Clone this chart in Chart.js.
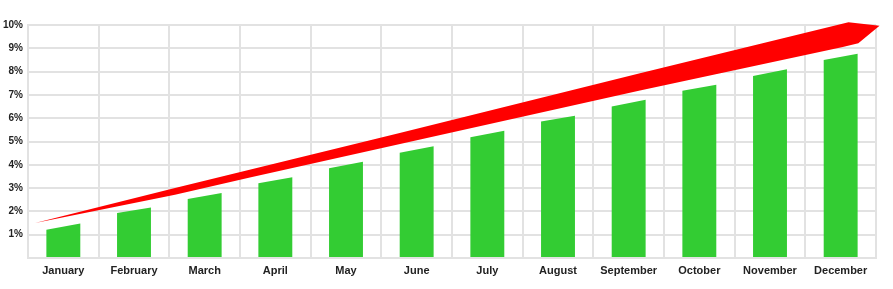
<!DOCTYPE html>
<html>
<head>
<meta charset="utf-8">
<script src="https://cdn.jsdelivr.net/npm/chart.js@4"></script>
<style>
  html, body { margin: 0; padding: 0; background: #ffffff; }
  #wrap { width: 893px; height: 289px; position: relative; }
</style>
</head>
<body>
<div id="wrap"><canvas id="c" width="893" height="289"></canvas></div>
<script>
// ---- data ----
const months = ['January', 'February', 'March', 'April', 'May', 'June', 'July', 'August', 'September', 'October', 'November', 'December'];
// each bar has a slanted top: value at its left edge and at its right edge (percent)
const barLeftTop  = [1.21, 1.93, 2.53, 3.21, 3.85, 4.52, 5.18, 5.86, 6.50, 7.18, 7.81, 8.50];
const barRightTop = [1.48, 2.17, 2.79, 3.47, 4.13, 4.80, 5.46, 6.11, 6.79, 7.44, 8.10, 8.77];
const yTicks = [0, 1, 2, 3, 4, 5, 6, 7, 8, 9, 10];
// red arrow outline (category-index position, percent), traced around the shape
const arrowX = [-0.40, 1.58, 4.76, 8.16, 11.11, 11.55, 11.25, 11.03, 8.16, 5.05, 2.64, 1.58, -0.40];
const arrowY = [ 1.50, 3.00, 5.36, 7.93, 10.12,  9.97,  9.22,  9.06, 7.19, 5.09, 3.46, 2.71,  1.50];

const GRID = '#e2e2e2';
const GREEN = '#33cc33';
const RED = '#ff0000';

const customShapes = {
  id: 'customShapes',
  beforeDatasetDraw(chart, args) {
    const ctx = chart.ctx;
    const meta = args.meta;
    if (args.index === 0) {
      // bars with slanted tops
      const yScale = chart.scales.y;
      ctx.save();
      ctx.fillStyle = GREEN;
      meta.data.forEach((el, i) => {
        const half = el.width / 2;
        const yL = yScale.getPixelForValue(barLeftTop[i]);
        const yR = el.y;
        ctx.beginPath();
        ctx.moveTo(el.x - half, el.base);
        ctx.lineTo(el.x - half, yL);
        ctx.lineTo(el.x + half, yR);
        ctx.lineTo(el.x + half, el.base);
        ctx.closePath();
        ctx.fill();
      });
      ctx.restore();
      return false;
    }
    if (args.index === 1) {
      // arrow: fill the line element's own path, without chart-area clipping
      ctx.save();
      ctx.fillStyle = RED;
      ctx.beginPath();
      meta.dataset.path(ctx);
      ctx.closePath();
      ctx.fill();
      ctx.restore();
      return false;
    }
  }
};

new Chart(document.getElementById('c'), {
  data: {
    labels: months,
    datasets: [
      {
        type: 'bar',
        data: barRightTop,
        backgroundColor: GREEN,
        borderWidth: 0,
        grouped: false,
        categoryPercentage: 1,
        barPercentage: 0.48,
        xAxisID: 'x',
        yAxisID: 'y',
        order: 2
      },
      {
        type: 'line',
        data: arrowX.map((x, i) => ({ x: x, y: arrowY[i] })),
        xAxisID: 'xl',
        yAxisID: 'y',
        borderWidth: 0,
        borderColor: 'rgba(0,0,0,0)',
        backgroundColor: RED,
        fill: false,
        pointRadius: 0,
        tension: 0,
        clip: false,
        order: 1
      }
    ]
  },
  plugins: [customShapes],
  options: {
    responsive: false,
    animation: false,
    events: [],
    layout: { padding: { left: 3, right: 17, top: 25, bottom: 0 } },
    plugins: {
      legend: { display: false },
      tooltip: { enabled: false },
      title: { display: false }
    },
    scales: {
      x: {
        type: 'category',
        offset: true,
        grid: { offset: true, color: GRID, lineWidth: 2, drawTicks: false },
        border: { color: GRID, width: 2 },
        ticks: {
          color: '#222222',
          font: { family: 'Liberation Sans, Arial, sans-serif', size: 11, weight: 'bold' },
          padding: 6,
          maxRotation: 0,
          autoSkip: false
        },
        afterFit(scale) { scale.height = 31; }
      },
      xl: {
        type: 'linear',
        display: false,
        min: -0.5,
        max: 11.5,
        position: 'bottom'
      },
      y: {
        type: 'linear',
        min: 0,
        max: 10,
        afterBuildTicks(scale) { scale.ticks = yTicks.map(v => ({ value: v })); },
        grid: { color: GRID, lineWidth: 2, drawTicks: false },
        border: { color: GRID, width: 2 },
        ticks: {
          color: '#222222',
          font: { family: 'Liberation Sans, Arial, sans-serif', size: 10, weight: 'bold' },
          padding: 5,
          callback: (v) => v === 0 ? '' : v + '%'
        },
        afterFit(scale) { scale.width = 25; }
      }
    }
  }
});
</script>
</body>
</html>
